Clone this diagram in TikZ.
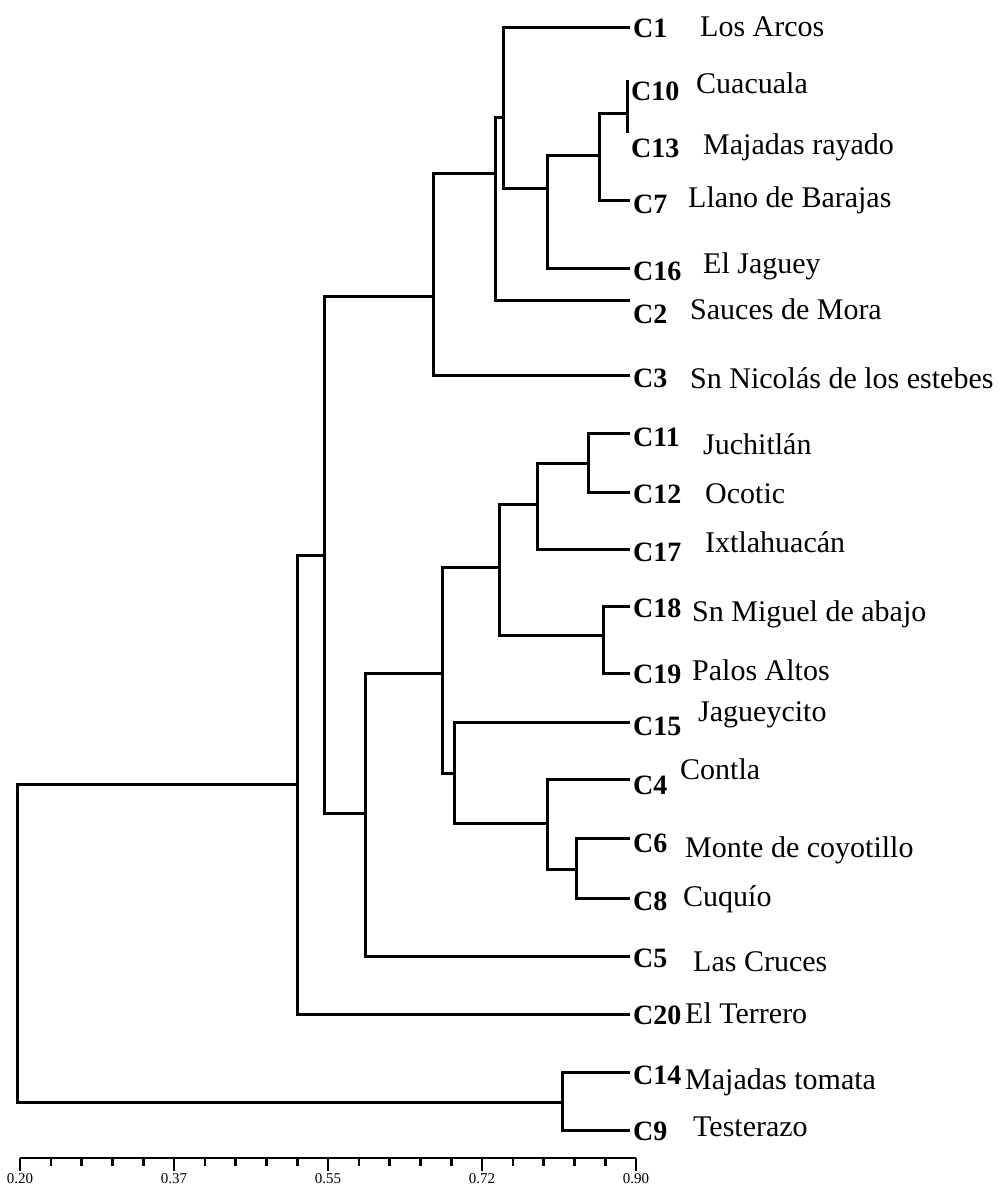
\documentclass[tikz,border=0pt]{standalone}
\usepackage{fontspec}
\setmainfont{Liberation Serif}
\begin{document}
\begin{tikzpicture}[x=1pt,y=-1pt,
    branch/.style={line width=3pt,line join=miter},
    code/.style={anchor=base west,inner sep=0pt,font=\fontsize{28}{30}\selectfont\bfseries},
    site/.style={anchor=base west,inner sep=0pt,font=\fontsize{30}{32}\selectfont},
    tick/.style={line width=2.6pt},
    scale label/.style={anchor=north,inner sep=0pt,font=\fontsize{15}{16}\selectfont}
  ]
    \useasboundingbox (0,0) rectangle (1006,1192);
    % leaf ends
    \coordinate (l1) at (630,27);    \coordinate (l10) at (627,80);
    \coordinate (l13) at (627,133);  \coordinate (l7) at (630,200);
    \coordinate (l16) at (630,268);  \coordinate (l2) at (630,300);
    \coordinate (l3) at (630,375);   \coordinate (l11) at (630,433);
    \coordinate (l12) at (630,492);  \coordinate (l17) at (630,549);
    \coordinate (l18) at (630,606);  \coordinate (l19) at (630,673);
    \coordinate (l15) at (630,722);  \coordinate (l4) at (630,779);
    \coordinate (l6) at (630,838);   \coordinate (l8) at (630,898);
    \coordinate (l5) at (630,956);   \coordinate (l20) at (630,1014);
    \coordinate (l14) at (630,1072); \coordinate (l9) at (630,1130);
    % joins
    \coordinate (j1) at (627,113);  \coordinate (j2) at (599,155);
    \coordinate (j3) at (547,188);  \coordinate (j4) at (503,117);
    \coordinate (j5) at (495,173);  \coordinate (j6) at (433,296);
    \coordinate (j7) at (588,463);  \coordinate (j8) at (537,504);
    \coordinate (j9) at (603,635);  \coordinate (j10) at (499,567);
    \coordinate (j11) at (576,869); \coordinate (j12) at (547,823);
    \coordinate (j13) at (454,773); \coordinate (j14) at (442,673);
    \coordinate (j15) at (365,813); \coordinate (j16) at (324,555);
    \coordinate (j17) at (297,784); \coordinate (j18) at (562,1102);
    \coordinate (j19) at (17,943);

    \draw[branch] (j1) |- (l10) (j1) |- (l13);
    \draw[branch] (j2) |- (j1) (j2) |- (l7);
    \draw[branch] (j3) |- (j2) (j3) |- (l16);
    \draw[branch] (j4) |- (l1) (j4) |- (j3);
    \draw[branch] (j5) |- (j4) (j5) |- (l2);
    \draw[branch] (j6) |- (j5) (j6) |- (l3);
    \draw[branch] (j7) |- (l11) (j7) |- (l12);
    \draw[branch] (j8) |- (j7) (j8) |- (l17);
    \draw[branch] (j9) |- (l18) (j9) |- (l19);
    \draw[branch] (j10) |- (j8) (j10) |- (j9);
    \draw[branch] (j11) |- (l6) (j11) |- (l8);
    \draw[branch] (j12) |- (l4) (j12) |- (j11);
    \draw[branch] (j13) |- (l15) (j13) |- (j12);
    \draw[branch] (j14) |- (j10) (j14) |- (j13);
    \draw[branch] (j15) |- (j14) (j15) |- (l5);
    \draw[branch] (j16) |- (j6) (j16) |- (j15);
    \draw[branch] (j17) |- (j16) (j17) |- (l20);
    \draw[branch] (j18) |- (l14) (j18) |- (l9);
    \draw[branch] (j19) |- (j17) (j19) |- (j18);

    % codes
    \node[code] (c1) at (633,37) {C1};
    \node[code] (c10) at (631,100) {C10};
    \node[code] (c13) at (631,157) {C13};
    \node[code] (c7) at (633,213) {C7};
    \node[code] (c16) at (633,280) {C16};
    \node[code] (c2) at (633,323) {C2};
    \node[code] (c3) at (633,387) {C3};
    \node[code] (c11) at (633,446) {C11};
    \node[code] (c12) at (633,503) {C12};
    \node[code] (c17) at (633,561) {C17};
    \node[code] (c18) at (633,617) {C18};
    \node[code] (c19) at (633,683) {C19};
    \node[code] (c15) at (633,735) {C15};
    \node[code] (c4) at (633,794) {C4};
    \node[code] (c6) at (633,852) {C6};
    \node[code] (c8) at (633,910) {C8};
    \node[code] (c5) at (633,967) {C5};
    \node[code] (c20) at (633,1024) {C20};
    \node[code] (c14) at (633,1084) {C14};
    \node[code] (c9) at (633,1140) {C9};

    % sites
    \node[site] (s1) at (700,36) {Los Arcos};
    \node[site] (s10) at (696,93) {Cuacuala};
    \node[site] (s13) at (703,154) {Majadas rayado};
    \node[site] (s7) at (688,207) {Llano de Barajas};
    \node[site] (s16) at (703,273) {El Jaguey};
    \node[site] (s2) at (690,319) {Sauces de Mora};
    \node[site] (s3) at (690,388) {Sn Nicolás de los estebes};
    \node[site] (s11) at (703,454) {Juchitlán};
    \node[site] (s12) at (705,503) {Ocotic};
    \node[site] (s17) at (705,552) {Ixtlahuacán};
    \node[site] (s18) at (692,621) {Sn Miguel de abajo};
    \node[site] (s19) at (692,680) {Palos Altos};
    \node[site] (s15) at (698,721) {Jagueycito};
    \node[site] (s4) at (680,779) {Contla};
    \node[site] (s6) at (685,857) {Monte de coyotillo};
    \node[site] (s8) at (683,906) {Cuquío};
    \node[site] (s5) at (693,971) {Las Cruces};
    \node[site] (s20) at (685,1023) {El Terrero};
    \node[site] (s14) at (685,1089) {Majadas tomata};
    \node[site] (s9) at (693,1136) {Testerazo};

    % scale
    \coordinate (a0) at (20,1158); \coordinate (a1) at (636,1158);
    \draw[tick] (a0) -- (a1);
    \foreach \i in {1,2,3,4,6,7,8,9,11,12,13,14,16,17,18,19}
      \draw[tick] ({20+30.8*\i},1158) -- ++(0,8);
    \foreach \i/\v in {0/0.20,5/0.37,10/0.55,15/0.72,20/0.90}
      \draw[tick] ({20+30.8*\i},1158) -- ++(0,13) node[scale label,below=1pt] (t\i) {\v};
  \end{tikzpicture}
\end{document}
